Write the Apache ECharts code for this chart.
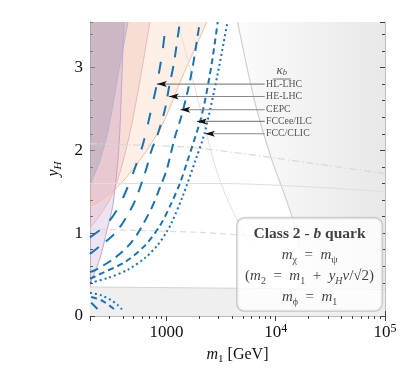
<!DOCTYPE html>
<html><head><meta charset="utf-8">
<script src="https://cdn.jsdelivr.net/npm/echarts@6/dist/echarts.min.js"></script>
<style>html,body{margin:0;padding:0;background:#fff}#c{width:408px;height:374px}</style>
</head><body><div id="c"></div>
<script>
// ---------- data (m1 [GeV], yH) ----------
const xMin = 200, xMax = 100000, yMin = 0, yMax = 3.55;
const xMinorTicks = [300,400,500,600,700,800,900,2000,3000,4000,5000,6000,7000,8000,9000,20000,30000,40000,50000,60000,70000,80000,90000];

// kappa_b projections (upper branches)
const hlLhc   = [[200,0.95],[280,1.1],[360,1.3],[440,1.55],[520,1.8],[609,2.07],[700,2.4],[818,2.8],[922,3.2],[990,3.55]];
const heLhc   = [[200,0.75],[250,0.85],[292,0.92],[350,1.02],[415,1.16],[512,1.38],[649,1.76],[731,2.0],[836,2.2],[968,2.49],[1053,2.75],[1170,3.05],[1328,3.55]];
const cepc    = [[200,0.53],[228,0.56],[336,0.70],[450,0.85],[549,1.0],[736,1.31],[872,1.55],[1003,1.76],[1196,2.16],[1356,2.39],[1570,2.72],[1746,3.02],[1979,3.47],[2030,3.55]];
const fccee   = [[200,0.45],[260,0.52],[417,0.65],[636,0.85],[872,1.09],[1100,1.35],[1328,1.6],[1538,1.85],[2024,2.34],[2248,2.59],[2600,3.05],[2950,3.55]];
const fccClic = [[200,0.40],[292,0.46],[445,0.56],[636,0.70],[836,0.86],[1010,1.02],[1122,1.13],[1414,1.45],[1822,1.86],[2248,2.22],[2952,2.93],[3620,3.55]];
// lower branches
const fccClicLow = [[200,0.28],[254,0.25],[313,0.19],[360,0.13],[392,0.08]];
const fcceeLow   = [[205,0.23],[254,0.19],[313,0.11],[340,0.07]];
const cepcLow    = [[205,0.16],[228,0.10],[245,0.06]];

// excluded-region boundaries
const orangeEdge   = [[200,1.32],[274,1.43],[384,1.60],[572,1.88],[909,2.30],[1414,2.90],[2342,3.55]];
const pinkEdge     = [[200,1.06],[247,1.22],[318,1.46],[392,1.82],[474,2.27],[572,2.84],[706,3.55]];
const purpleEdge   = [[200,0.39],[247,0.70],[286,1.04],[324,1.34],[360,1.88],[376,2.27],[392,2.90],[409,3.55]];
const blueGrayEdge = [[200,1.58],[247,1.88],[296,2.27],[360,2.90],[445,3.55]];
const grayRegion   = [[4480,3.55],[6430,2.59],[9130,1.90],[12080,1.46],[13900,1.22],[16600,0.8],[20400,0.33],[100000,0.33]];
const grayRegionEdge = [[4480,3.55],[6430,2.59],[9130,1.90],[12080,1.46],[13900,1.22],[16600,0.8]];
const grayCurve2   = [[1273,3.55],[1708,2.90],[2248,2.28],[2775,1.82],[3640,1.40],[4697,1.10],[5800,0.86]];
const bottomBand   = [[200,0.35],[100000,0.32]];
const solidLine    = [[200,1.6],[3000,1.6],[20000,1.56],[100000,1.5]];
const dashDotLine  = [[200,2.08],[1500,2.04],[5000,1.96],[20000,1.85],[100000,1.72]];
const dashedLine   = [[200,1.05],[2000,1.01],[4500,0.98],[20000,0.93]];

// arrows and labels
const labelNames = ['HL-LHC','HE-LHC','CEPC','FCCee/ILC','FCC/CLIC'];
const arrowY     = [2.80, 2.65, 2.49, 2.35, 2.20];
const arrowTipM  = [818, 1050, 1340, 1900, 2250];
const arrowTailM = 7930;
const labelM     = 8000;
const headerPos  = [11360, 2.94];
const boxPos     = [20420, 0.623];

// ---------- chart ----------
const serif = 'Liberation Serif';
const blue = '#1a72b6';
const chart = echarts.init(document.getElementById('c'));

function region(data, fill, line, z) {
  return {type:'line', data, symbol:'none', smooth:0.3, silent:true, z,
    lineStyle:{color:line, width:1}, areaStyle:{color:fill, origin:'end', opacity:1}};
}
function curve(data, dash, z) {
  return {type:'line', data, symbol:'none', smooth:0.3, silent:true, z: z||5,
    lineStyle:{color:blue, width:2, type:dash}};
}
function thin(data, color, type, w) {
  return {type:'line', data, symbol:'none', smooth:0.3, silent:true, z:3,
    lineStyle:{color, width:w||1, type}};
}

const series = [
  {type:'line', data:bottomBand, symbol:'none', silent:true, z:1,
    lineStyle:{color:'#d4d4d4', width:1.2}, areaStyle:{color:'#efefef', origin:'start', opacity:1}},
  {type:'line', data:grayRegion, symbol:'none', smooth:0.3, silent:true, z:1,
    lineStyle:{width:0},
    areaStyle:{origin:'end', opacity:1, color:new echarts.graphic.LinearGradient(0,0,1,0,[
      {offset:0,color:'rgba(0,0,0,0.015)'},{offset:1,color:'rgba(0,0,0,0.09)'}])}},
  thin(grayRegionEdge, '#cfcfcf', 'solid', 1.2),
  thin(grayCurve2, '#e0e0e0', 'solid', 1),
  region(orangeEdge, 'rgba(248,180,135,0.22)', '#f3bf9a', 2),
  region(pinkEdge, 'rgba(228,150,150,0.20)', '#e9b7b7', 2),
  region(purpleEdge, 'rgba(185,145,200,0.25)', '#c4a3cb', 2),
  region(blueGrayEdge, 'rgba(125,130,160,0.25)', '#adb6cf', 2),
  thin(solidLine, '#dedede', 'solid', 1),
  thin(dashDotLine, '#d8d8d8', [7,3,1.5,3], 1.2),
  thin(dashedLine, '#dcdcdc', [6,4], 1.2),
  curve(hlLhc, [12,14]),
  curve(heLhc, [11,9]),
  curve(cepc, [9,6]),
  curve(fccee, [6,4]),
  curve(fccClic, [2,3]),
  curve(fccClicLow, [2,3]),
  curve(fcceeLow, [6,4]),
  curve(cepcLow, [9,6]),
];
labelNames.forEach((n,i)=>{
  series.push({type:'line', data:[[arrowTipM[i],arrowY[i]],[arrowTailM,arrowY[i]]], symbol:'none', silent:true, z:8,
    lineStyle:{color:'#888', width:1.1}});
});
series.push({type:'scatter', silent:true, z:9,
  data: arrowTipM.map((m,i)=>[m, arrowY[i]]),
  symbol:'path://M0,4L11,0L8.5,4L11,8Z', symbolSize:[10,6], symbolOffset:[5,0], symbolKeepAspect:false,
  itemStyle:{color:'#111', opacity:1}});
series.push({type:'scatter', silent:true, z:9, symbolSize:0,
  data: labelNames.map((n,i)=>({name:n, value:[labelM, arrowY[i]]})),
  label:{show:true, position:'right', distance:1, formatter:'{b}', fontFamily:serif, fontSize:9.8, color:'#2a2a2a'}});
series.push({type:'scatter', silent:true, z:9, symbolSize:0,
  data:[headerPos],
  label:{show:true, position:'inside', formatter:'{k|κ}{s|b}\n{u|}', align:'center',
    rich:{k:{fontFamily:serif, fontStyle:'italic', fontSize:13, color:'#2a2a2a', lineHeight:13},
          s:{fontFamily:serif, fontStyle:'italic', fontSize:8.5, color:'#2a2a2a', lineHeight:7, verticalAlign:'bottom'},
          u:{width:18, height:0.9, backgroundColor:'#444', lineHeight:3}}}});

const sp = '\u2002';
const r = {fontFamily:serif, fontSize:15, color:'#111', lineHeight:21};
const it = {fontFamily:serif, fontSize:15, color:'#111', lineHeight:21, fontStyle:'italic'};
const sb = {fontFamily:serif, fontSize:10, color:'#111', lineHeight:12, verticalAlign:'bottom'};
const sbi = Object.assign({}, sb, {fontStyle:'italic'});
series.push({type:'scatter', silent:true, z:20, symbolSize:0,
  data:[boxPos],
  label:{show:true, position:'inside', align:'center', width:140, padding:[5,2,3,2],
    backgroundColor:'#fff', borderColor:'#c6c6c6', borderWidth:1.6, borderRadius:7,
    formatter:[
      '{b|Class 2 - }{bi|b}{b| quark}',
      '{i|m}{s|χ}{r|' + sp + '=' + sp + '}{i|m}{s|ψ}',
      '{r|(}{i|m}{s|2}{r|' + sp + '=' + sp + '}{i|m}{s|1}{r|' + sp + '+' + sp + '}{i|y}{si|H}{i|v}{r|/√2)}',
      '{i|m}{s|ϕ}{r|' + sp + '=' + sp + '}{i|m}{s|1}'
    ].join('\n'),
    rich:{
      b:{fontFamily:serif, fontSize:15.5, fontWeight:'bold', color:'#111', lineHeight:21},
      bi:{fontFamily:serif, fontSize:15.5, fontWeight:'bold', fontStyle:'italic', color:'#111', lineHeight:21},
      r:r, i:it, s:sb, si:sbi
    }}});

function fmtX(v){
  const e = Math.round(Math.log10(v));
  if (Math.abs(Math.log10(v)-e) > 1e-6) return '';
  if (e === 3) return '{b|1000}';
  if (e === 4 || e === 5) return '{b|10}{s|' + e + '}';
  return '';
}
const tickStyle = {color:'#444', width:1};
const frame = {show:true, lineStyle:{color:'#bdbdbd', width:1}};
const xBase = {type:'log', logBase:10, min:xMin, max:xMax, splitLine:{show:false},
  axisLine:{show:false}, axisLabel:{show:false}, axisTick:{show:false}};
const yBase = {type:'value', min:yMin, max:yMax, splitLine:{show:false},
  axisLine:{show:false}, axisLabel:{show:false}, axisTick:{show:false}};

chart.setOption({
  animation:false,
  backgroundColor:'#fff',
  grid:{left:90, right:23, top:22, bottom:58},
  xAxis:[
    Object.assign({}, xBase, {position:'bottom', axisLine:frame,
      axisTick:{show:true, inside:true, length:5, lineStyle:tickStyle},
      axisLabel:{show:true, formatter:fmtX, margin:7, showMinLabel:false,
        rich:{b:{fontFamily:serif, fontSize:17, color:'#111', lineHeight:20},
              s:{fontFamily:serif, fontSize:12, color:'#111', lineHeight:12, verticalAlign:'top'}}},
      name:'{i|m}{s|1}{r| [GeV]}', nameLocation:'middle', nameGap:29,
      nameTextStyle:{rich:{i:{fontFamily:serif, fontStyle:'italic', fontSize:16, color:'#111', lineHeight:20},
        s:{fontFamily:serif, fontSize:11, color:'#111', lineHeight:12, verticalAlign:'bottom'},
        r:{fontFamily:serif, fontSize:16, color:'#111', lineHeight:20}}}}),
    Object.assign({}, xBase, {position:'bottom', axisTick:{show:true, inside:true, length:3, customValues:xMinorTicks, lineStyle:tickStyle}}),
    Object.assign({}, xBase, {position:'top', axisLine:frame, axisTick:{show:true, inside:true, length:5, lineStyle:tickStyle}}),
    Object.assign({}, xBase, {position:'top', axisTick:{show:true, inside:true, length:3, customValues:xMinorTicks, lineStyle:tickStyle}})
  ],
  yAxis:[
    Object.assign({}, yBase, {position:'left', interval:1, axisLine:frame,
      axisTick:{show:true, inside:true, length:5, lineStyle:tickStyle},
      axisLabel:{show:true, margin:7, showMaxLabel:false, formatter:v => (Math.abs(v-Math.round(v))<1e-9 ? String(Math.round(v)) : ''),
        fontFamily:serif, fontSize:17, color:'#111'},
      name:'{i|y}{s|H}', nameLocation:'middle', nameGap:19, nameRotate:90,
      nameTextStyle:{rich:{i:{fontFamily:serif, fontStyle:'italic', fontSize:16, color:'#111', lineHeight:20},
        s:{fontFamily:serif, fontStyle:'italic', fontSize:11, color:'#111', lineHeight:12, verticalAlign:'bottom'}}}}),
    Object.assign({}, yBase, {position:'left', interval:0.2, axisTick:{show:true, inside:true, length:3, lineStyle:tickStyle}}),
    Object.assign({}, yBase, {position:'right', interval:1, axisLine:frame, axisTick:{show:true, inside:true, length:5, lineStyle:tickStyle}}),
    Object.assign({}, yBase, {position:'right', interval:0.2, axisTick:{show:true, inside:true, length:3, lineStyle:tickStyle}})
  ],
  series: series
});
</script></body></html>
